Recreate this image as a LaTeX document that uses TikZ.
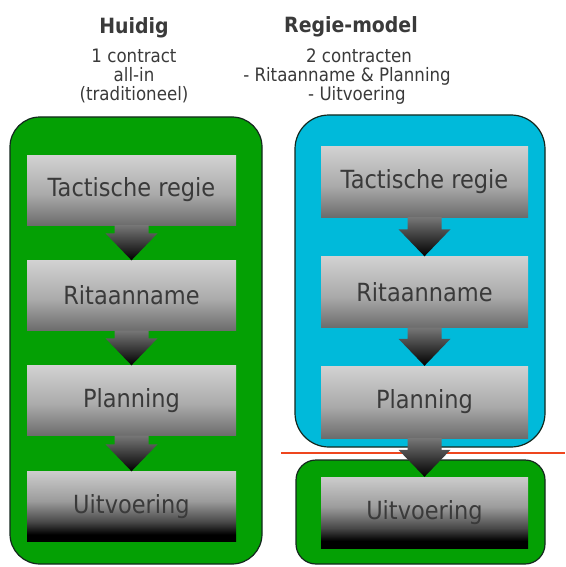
\documentclass[tikz,border=0pt]{standalone}
\usepackage{fontspec}
\setmainfont{DejaVu Sans}[FakeStretch=0.9]
\usetikzlibrary{calc}

\definecolor{frameGreen}{RGB}{4,160,4}
\definecolor{frameCyan}{RGB}{0,186,218}
\definecolor{frameLine}{RGB}{20,40,30}
\definecolor{cutRed}{RGB}{238,70,30}
\definecolor{inkGray}{RGB}{58,58,58}
\definecolor{stepTop}{RGB}{210,210,210}
\definecolor{stepMid}{RGB}{170,170,170}
\definecolor{stepBot}{RGB}{108,108,108}
\definecolor{lastTop}{RGB}{204,204,204}
\definecolor{lastMid}{RGB}{156,156,156}
\definecolor{lastLow}{RGB}{72,72,72}
\definecolor{arrowTop}{RGB}{118,118,118}

% grey step boxes, darkening towards the bottom
\pgfdeclareverticalshading{stepshade}{100bp}{color(0bp)=(stepBot); color(25bp)=(stepBot);
  color(47bp)=(stepMid); color(75bp)=(stepTop); color(100bp)=(stepTop)}
% last step fades into black
\pgfdeclareverticalshading{lastshade}{100bp}{color(0bp)=(black); color(25bp)=(black);
  color(30bp)=(black); color(39bp)=(lastLow); color(54bp)=(lastMid); color(75bp)=(lastTop); color(100bp)=(lastTop)}
% block arrows: grey at the shaft, black at the tip
\pgfdeclareverticalshading{arrowshade}{100bp}{color(0bp)=(black); color(25bp)=(black);
  color(75bp)=(arrowTop); color(100bp)=(arrowTop)}

\tikzset{
  stepbox/.style={shading=stepshade, minimum height=70pt, inner sep=0pt,
    font=\fontsize{25}{30}\selectfont, text=inkGray},
  laststep/.style={stepbox, shading=lastshade},
  leftcol/.style={minimum width=209pt},
  rightcol/.style={minimum width=207pt},
  title/.style={anchor=base, text=inkGray, font=\bfseries\fontsize{21}{24}\selectfont},
  subtitle/.style={anchor=base, text=inkGray, font=\fontsize{18.5}{21}\selectfont},
  container/.style={draw=frameLine, line width=1.2pt},
  cutline/.style={draw=cutRed, line width=2pt},
}

% block arrow from the bottom of #1 to the top of #2
\newcommand\blockarrow[2]{%
  \path[shading=arrowshade]
    ($(#1.south)+(-17,0)$) -- ($(#2.north)+(-17,-27)$) -- ($(#2.north)+(-26,-27)$)
    -- (#2.north) -- ($(#2.north)+(26,-27)$) -- ($(#2.north)+(17,-27)$)
    -- ($(#1.south)+(17,0)$) -- cycle;}

\begin{document}
\begin{tikzpicture}[x=1pt, y=-1pt]
\useasboundingbox (0,0) rectangle (565,567);

% headings
\node[title]    (hTitle) at (134,34)  {Huidig};
\node[subtitle] (hSub1)  at (134,63)  {1 contract};
\node[subtitle] (hSub2)  at (134,82)  {all-in};
\node[subtitle] (hSub3)  at (134,101) {(traditioneel)};

\node[title]    (rTitle) at (351,33)  {Regie-model};
\node[subtitle] (rSub1)  at (359,63)  {2 contracten};
\node[subtitle] (rSub2)  at (347,82)  {- Ritaanname \& Planning};
\node[subtitle] (rSub3)  at (357,101) {- Uitvoering};

% contract frames
\path[container, fill=frameGreen, rounded corners=30pt] (10,117) rectangle (262,564);
\path[container, fill=frameCyan,  rounded corners=34pt] (295,115) rectangle (545,447);
\path[container, fill=frameGreen, rounded corners=20pt] (296,460) rectangle (545,564);

% contract boundary
\coordinate (cutL) at (281,453);
\coordinate (cutR) at (565,453);
\draw[cutline] (cutL) -- (cutR);

% current situation: one chain
\node[stepbox, leftcol]  (lT) at (131.5,190)   {Tactische regie};
\node[stepbox, leftcol]  (lR) at (131.5,295.5) {Ritaanname};
\node[stepbox, leftcol]  (lP) at (131.5,400.5) {Planning};
\node[laststep, leftcol] (lU) at (131.5,506.5) {Uitvoering};

% regie model: same chain, split over two contracts
\node[stepbox, rightcol, minimum height=71pt]  (rT) at (424.5,181.5) {Tactische regie};
\node[stepbox, rightcol, minimum height=71pt]  (rR) at (424.5,292)   {Ritaanname};
\node[stepbox, rightcol, minimum height=72pt]  (rP) at (424.5,402)   {Planning};
\node[laststep, rightcol, minimum height=71pt] (rU) at (424.5,512.5) {Uitvoering};

\blockarrow{lT}{lR}
\blockarrow{lR}{lP}
\blockarrow{lP}{lU}
\blockarrow{rT}{rR}
\blockarrow{rR}{rP}
\blockarrow{rP}{rU}
\end{tikzpicture}
\end{document}
